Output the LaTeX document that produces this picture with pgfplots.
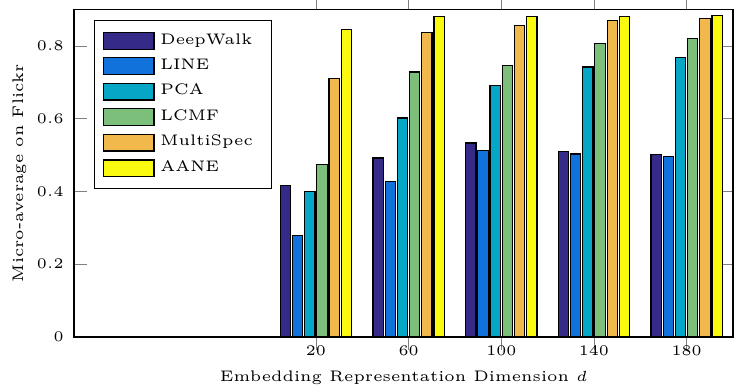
\documentclass[border=0pt]{standalone}
\usepackage{pgfplots}
\pgfplotsset{compat=1.18}
\definecolor{cDW}{RGB}{53,42,135}
\definecolor{cLI}{RGB}{16,114,218}
\definecolor{cPC}{RGB}{6,167,198}
\definecolor{cLC}{RGB}{124,191,123}
\definecolor{cMS}{RGB}{241,185,76}
\definecolor{cAA}{RGB}{249,250,15}
\newcommand{\lblfont}{\fontsize{5.2pt}{6.2pt}\selectfont}
\begin{document}
\begin{tikzpicture}
\begin{axis}[
  name=ax,
  scale only axis,
  width=224.06pt, height=111.35pt,
  xmin=-84.4, xmax=200, ymin=0, ymax=0.9,
  ybar, bar width=4.45,
  xtick={20,60,100,140,180},
  ytick={0,0.2,0.4,0.6,0.8},
  tick label style={font=\tiny},
  xticklabel style={anchor=base, yshift=-1.9pt},
  xlabel={Embedding Representation Dimension $d$},
  ylabel={Micro-average on Flickr},
  xlabel style={font=\lblfont, at={([yshift=-15.2pt]axis description cs:0.5,0)}, anchor=base},
  ylabel style={font=\lblfont, at={([xshift=-17.3pt]axis description cs:0,0.5)}, anchor=base},
  legend style={font=\lblfont, at={(0.03,0.968)}, anchor=north west, draw=black,
    row sep=-0.5pt, inner xsep=3pt, inner ysep=2.4pt, cells={anchor=west}},
  legend image code/.code={\draw[#1,draw=black] (0cm,-0.1cm) rectangle (0.6cm,0.1cm);},
  every axis plot/.append style={draw=black, line width=0.4pt},
]
\addplot[fill=cDW, bar shift=-13.17] coordinates {(20,0.416) (60,0.492) (100,0.533) (140,0.509) (180,0.501)};
\addplot[fill=cLI, bar shift=-7.9] coordinates {(20,0.279) (60,0.427) (100,0.512) (140,0.503) (180,0.495)};
\addplot[fill=cPC, bar shift=-2.63] coordinates {(20,0.399) (60,0.602) (100,0.690) (140,0.742) (180,0.769)};
\addplot[fill=cLC, bar shift=2.63] coordinates {(20,0.473) (60,0.728) (100,0.747) (140,0.807) (180,0.821)};
\addplot[fill=cMS, bar shift=7.9] coordinates {(20,0.711) (60,0.837) (100,0.857) (140,0.870) (180,0.876)};
\addplot[fill=cAA, bar shift=13.17] coordinates {(20,0.846) (60,0.881) (100,0.881) (140,0.881) (180,0.884)};
\legend{DeepWalk,LINE,PCA,LCMF,\makebox[32.8pt][l]{MultiSpec},AANE}
\end{axis}
\pgfresetboundingbox
\path ([shift={(-25.16pt,-18.02pt)}]ax.south west) rectangle ([shift={(3.74pt,3.23pt)}]ax.north east);
\end{tikzpicture}
\end{document}
